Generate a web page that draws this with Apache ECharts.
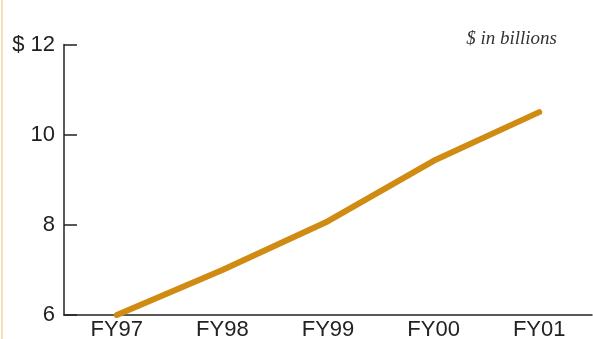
<!DOCTYPE html>
<html>
<head>
<meta charset="utf-8">
<script src="https://cdn.jsdelivr.net/npm/echarts@6/dist/echarts.min.js"></script>
<style>
html,body{margin:0;padding:0;background:#fff;}
#c{width:593px;height:339px;}
</style>
</head>
<body>
<div id="c"></div>
<script>
const categories = ['FY97', 'FY98', 'FY99', 'FY00', 'FY01'];
const values = [6.0, 7.0, 8.08, 9.42, 10.5];
const yTicks = [6, 8, 10, 12];
const unitNote = '$ in billions';

const chart = echarts.init(document.getElementById('c'), null, {renderer: 'canvas'});
chart.setOption({
  animation: false,
  backgroundColor: '#ffffff',
  graphic: [
    {type: 'rect', shape: {x: 1, y: 0, width: 2, height: 339}, style: {fill: '#f2e0bd'}},
    {type: 'text', x: 557, y: 39, style: {text: unitNote, font: 'italic 19px "Liberation Serif"', fill: '#333', align: 'right', verticalAlign: 'middle'}}
  ],
  grid: {left: 64, right: 1, top: 44.5, bottom: 24, containLabel: false, outerBoundsMode: 'none'},
  xAxis: {
    type: 'category',
    data: categories,
    boundaryGap: true,
    axisLine: {lineStyle: {color: '#222', width: 1.5}},
    axisTick: {inside: true, length: 6, lineStyle: {color: '#222', width: 1.5}},
    axisLabel: {color: '#222', fontSize: 22, fontFamily: 'Liberation Sans', margin: 4}
  },
  yAxis: {
    type: 'value',
    min: 6, max: 12, interval: 2,
    splitLine: {show: false},
    axisLine: {show: true, lineStyle: {color: '#222', width: 1.5}},
    axisTick: {show: true, inside: true, length: 13, lineStyle: {color: '#222', width: 1.5}},
    axisLabel: {
      color: '#222', fontSize: 22, fontFamily: 'Liberation Sans', margin: 9,
      formatter: v => (yTicks.indexOf(v) === yTicks.length - 1 ? '$ ' + v : String(v))
    }
  },
  series: [{
    type: 'line',
    data: values,
    symbol: 'none',
    lineStyle: {color: '#d08b12', width: 6, cap: 'round', join: 'round'}
  }]
});
</script>
</body>
</html>
